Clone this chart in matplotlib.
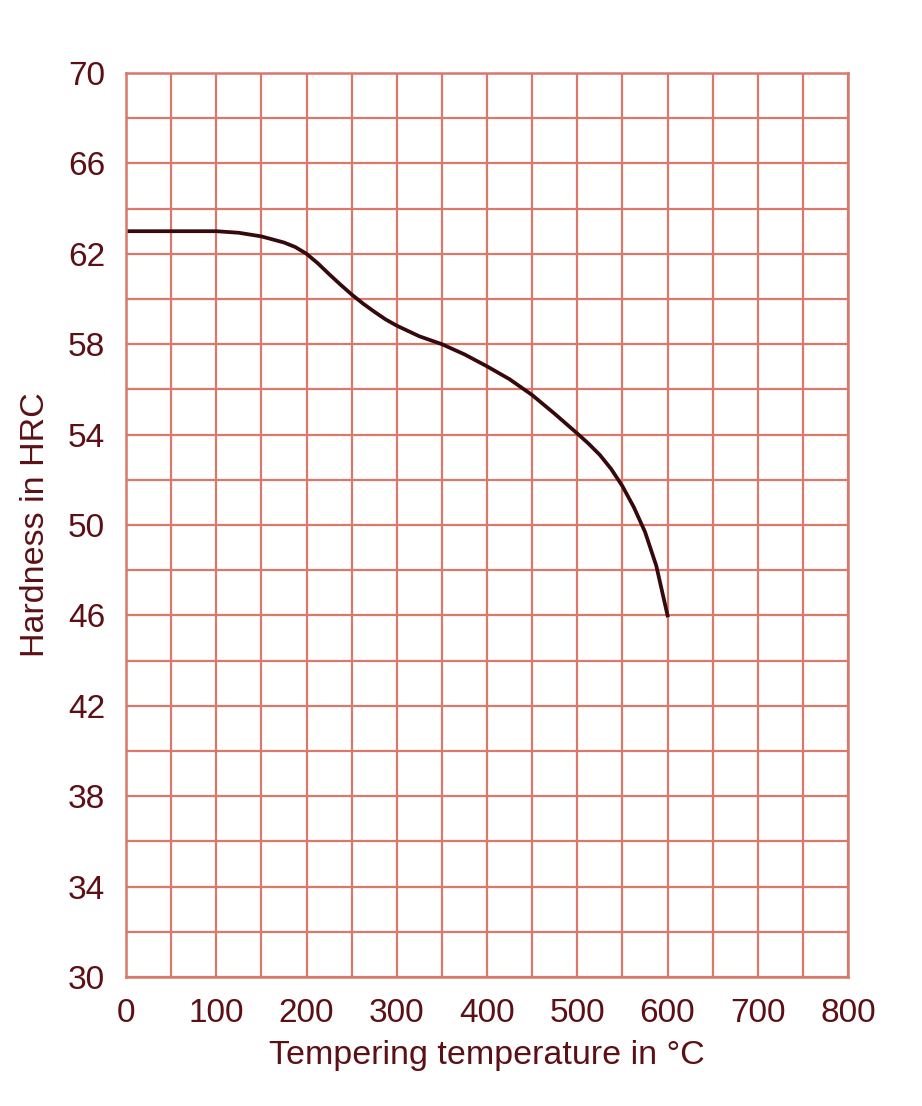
import numpy as np
import matplotlib.pyplot as plt

# Hardness vs tempering temperature
temp = [0, 50, 100, 125, 150, 175, 187.5, 200, 212.5, 225, 237.5, 250, 262.5, 275, 287.5,
        300, 325, 350, 375, 400, 425, 450, 475, 500, 512.5, 525, 537.5, 550, 562.5,
        575, 587.5, 600]
hrc = [63.0, 63.0, 63.0, 62.93, 62.77, 62.5, 62.3, 62.0, 61.58, 61.1, 60.64, 60.2, 59.8,
       59.44, 59.1, 58.82, 58.35, 58.0, 57.55, 57.02, 56.45, 55.75, 54.92, 54.05, 53.6,
       53.1, 52.48, 51.72, 50.8, 49.7, 48.2, 46.0]

x_ticks = [0, 100, 200, 300, 400, 500, 600, 700, 800]
y_ticks = [30, 34, 38, 42, 46, 50, 54, 58, 62, 66, 70]

grid_col = '#d9786b'
text_col = '#5c1016'
line_col = '#360a0c'

plt.rcParams['font.family'] = ['Liberation Sans', 'DejaVu Sans']

fig = plt.figure(figsize=(9.22, 11.06), dpi=100)
ax = fig.add_axes([0.1367, 0.1166, 0.7831, 0.8174])

ax.plot(temp, hrc, color=line_col, lw=2.7, solid_joinstyle='round')

ax.set_xlim(0, 800)
ax.set_ylim(30, 70)
ax.set_xticks(np.arange(0, 801, 50), minor=True)
ax.set_yticks(np.arange(30, 71, 2), minor=True)
ax.set_xticks(x_ticks)
ax.set_yticks(y_ticks)
ax.grid(True, which='both', color=grid_col, lw=1.6)
ax.set_axisbelow(True)
ax.tick_params(which='both', length=0, labelsize=24, labelcolor=text_col)
ax.tick_params(axis='x', pad=15)
ax.tick_params(axis='y', pad=15)
for s in ax.spines.values():
    s.set_color(grid_col)
    s.set_linewidth(1.8)

ax.set_xlabel('Tempering temperature in °C', fontsize=24.5, color=text_col, labelpad=8)
ax.set_ylabel('Hardness in HRC', fontsize=24.5, color=text_col, labelpad=12)

fig.savefig('out.png', dpi=100)
